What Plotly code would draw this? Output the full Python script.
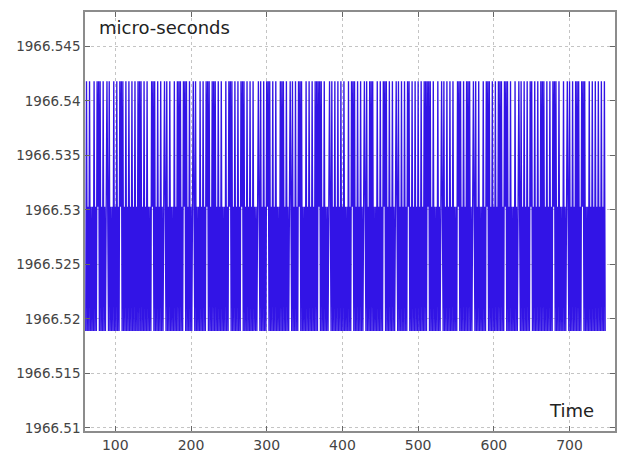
import plotly.graph_objects as go

# Quantised timer readings (micro-seconds): three levels the signal toggles between
LEVEL_VALUES = [1966.5189, 1966.5303, 1966.5418]
T_START = 61  # first time index

# Level index (0/1/2) of each successive sample
LEVEL_SEQUENCE = """
0201 0201 01 0201 0212 0201 0201 0121 0201 01 0201 0201 0212 0201 0201 0201 0201 0201
0202 0201 0201 0201 01 0212 0201 0201 0201 0121 0201 0201 01 0201 0202 0201 0212 0201
0201 0121 0201 01 0201 0201 0212 0201 0202 0201 0201 0201 01 0201 0212 0201 0201 0201
0212 0201 0201 0201 0201 01 0121 0201 0201 0212 0201 0201 0201 01 0202 0201 0201 0121
0201 0201 0212 0201 01 0201 0201 0201 0202 0212 0201 0201 01 0121 0201 0201 0201 0201
0201 01 0201 0212 0201 0201 0201 0121 0201 0202 0201 01 0201 0201 0212 0201 0201 0201
0121 0201 0201 0201 0212 01 0201 0201 0201 0201 0202 0212 0201 0201 01 0201 0121 0201
0201 0201 0201 01 0212 0201 0201 0202 0201 0121 0201 0201 01 0201 0212 0201 0201 0201
0202 0201 0212 0201 0201 01 0201 0121 0201 0201 0201 0212 01 0201 0201 0202 0201 0201
0201 0212 0201 0201 01 0201 0121 0201 0201 0202 0201 0212 0201 01 0201 0201 0201 0201
0201 020
"""

X_TICKS = [100, 200, 300, 400, 500, 600, 700]
Y_TICKS = [1966.51, 1966.515, 1966.52, 1966.525, 1966.53, 1966.535, 1966.54, 1966.545]
Y_TICK_LABELS = ["1966.51", "1966.515", "1966.52", "1966.525",
                 "1966.53", "1966.535", "1966.54", "1966.545"]
X_RANGE = [60, 760]
Y_RANGE = [1966.50972, 1966.54816]

seq = "".join(LEVEL_SEQUENCE.split())
y = [LEVEL_VALUES[int(c)] for c in seq]
x = [T_START + i for i in range(len(seq))]

fig = go.Figure()
fig.add_trace(go.Scatter(
    x=x, y=y, mode="lines",
    line=dict(color="#3214e6", width=1.35),
    hoverinfo="skip", showlegend=False,
))

axis_common = dict(
    showgrid=True, gridcolor="#c4c4c4", gridwidth=1, griddash="dot",
    showline=True, linecolor="#8c8c8c", linewidth=1.5, mirror="ticks",
    ticks="inside", ticklen=5, tickcolor="#666", tickwidth=1,
    zeroline=False,
)

fig.update_layout(
    width=618, height=457, autosize=False,
    margin=dict(l=85, r=1, t=12, b=26),
    paper_bgcolor="white", plot_bgcolor="white",
    xaxis=dict(range=X_RANGE, tickvals=X_TICKS,
               tickfont=dict(family="DejaVu Sans", size=14, color="#444"),
               **axis_common),
    yaxis=dict(range=Y_RANGE, tickvals=Y_TICKS, ticktext=Y_TICK_LABELS,
               tickfont=dict(family="DejaVu Sans", size=13.5, color="#444"),
               **axis_common),
    annotations=[
        dict(text="micro-seconds", xref="paper", yref="paper",
             x=0.0226, y=0.964, xanchor="left", yanchor="middle", showarrow=False,
             font=dict(family="DejaVu Sans", size=18, color="#222")),
        dict(text="Time", xref="paper", yref="paper",
             x=0.964, y=0.048, xanchor="right", yanchor="middle", showarrow=False,
             font=dict(family="DejaVu Sans", size=18, color="#222")),
    ],
)

fig.write_html("out.html")
